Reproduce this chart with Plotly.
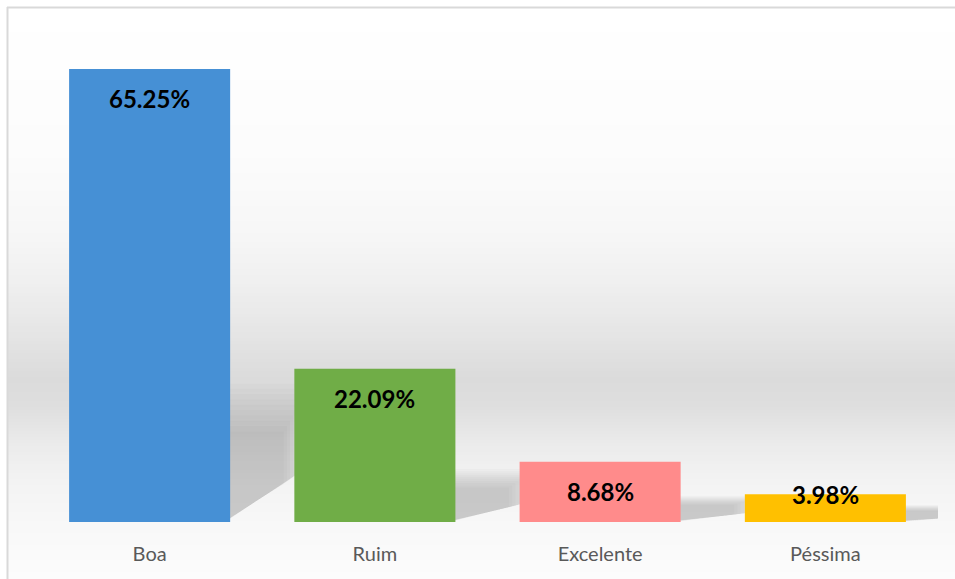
import plotly.graph_objects as go

categories = ["Boa", "Ruim", "Excelente", "Péssima"]
values = [65.25, 22.09, 8.68, 3.98]
labels = ["65.25%", "22.09%", "8.68%", "3.98%"]
bar_colors = ["#4690d5", "#70ad47", "#ff8b8b", "#ffc000"]

W, H = 955, 579
ML, MR, MT, MB = 37, 17, 36, 57
PW, PH = W - ML - MR, H - MT - MB
YMAX = 70
BAR_W = 0.715


def py2paper(py):
    return (H - MB - py) / PH


def px2paper(px):
    return (px - ML) / PW


# background gradient stops (pixel y, gray level)
stops = [(7, 255), (150, 252), (230, 247), (280, 240), (330, 230), (378, 219),
         (405, 222), (440, 234), (480, 243), (515, 247), (540, 249), (579, 252)]


def gray_at(y):
    for (y0, g0), (y1, g1) in zip(stops[:-1], stops[1:]):
        if y0 <= y <= y1:
            t = (y - y0) / (y1 - y0)
            return g0 + (g1 - g0) * t
    return stops[-1][1]


shapes = []
step = 3
y = 8
while y < H:
    g = int(round(gray_at(y + step / 2)))
    shapes.append(dict(type="rect", xref="paper", yref="paper",
                       x0=px2paper(8), x1=px2paper(W + 2),
                       y0=py2paper(y), y1=py2paper(min(y + step, H + 2) + 0.5),
                       fillcolor=f"rgb({g},{g},{g})", line=dict(width=0), layer="below"))
    y += step

# soft perspective shadows behind bars (built from the data values)
hw = BAR_W / 2
n_layers = 10
for i, v in enumerate(values):
    xr = i + hw
    t = 1 + 0.22 * v
    for k in range(n_layers):
        grow = 1.3 - 0.05 * k
        tt = t * grow
        L = 0.28 * grow
        path = (f"M {xr - 0.02},{tt} L {xr + L},{tt} L {xr + L},{0.42 * tt} "
                f"L {xr - 0.02},{0.05 + 0.02 * k} Z")
        shapes.append(dict(type="path", xref="x", yref="y", path=path,
                           fillcolor="rgba(60,60,60,0.028)", line=dict(width=0),
                           layer="below"))

# outer frame (top and left edges)
shapes.append(dict(type="line", xref="paper", yref="paper",
                   x0=px2paper(7), x1=px2paper(W + 5), y0=py2paper(7.5), y1=py2paper(7.5),
                   line=dict(color="#d9d9d9", width=2)))
shapes.append(dict(type="line", xref="paper", yref="paper",
                   x0=px2paper(7.5), x1=px2paper(7.5), y0=py2paper(7), y1=py2paper(H + 5),
                   line=dict(color="#d9d9d9", width=2)))

fig = go.Figure()
fig.add_trace(go.Bar(
    x=list(range(len(categories))), y=values, width=BAR_W,
    marker=dict(color=bar_colors, line=dict(width=0)),
    hoverinfo="skip", showlegend=False,
))

px_per_unit = PH / YMAX
annotations = []
for i, (v, lab) in enumerate(zip(values, labels)):
    bar_px = v * px_per_unit
    shift = -30 if bar_px > 60 else 0
    annotations.append(dict(x=i, y=v, xref="x", yref="y", text=f"<b>{lab}</b>",
                            showarrow=False, yanchor="middle", yshift=shift,
                            font=dict(family="Lato", size=24, color="#000000")))

fig.update_layout(
    width=W, height=H,
    margin=dict(l=ML, r=MR, t=MT, b=MB, pad=0),
    paper_bgcolor="#ffffff",
    plot_bgcolor="rgba(0,0,0,0)",
    shapes=shapes,
    annotations=annotations,
    bargap=1 - BAR_W,
    hovermode=False,
    xaxis=dict(tickmode="array", tickvals=list(range(len(categories))),
               ticktext=categories, range=[-0.5, len(categories) - 0.5],
               showgrid=False, zeroline=False, showline=False, ticks="",
               ticklabelstandoff=18, fixedrange=True,
               tickfont=dict(family="Lato", size=20, color="#595959")),
    yaxis=dict(range=[0, YMAX], showgrid=False, zeroline=False, showline=False,
               showticklabels=False, ticks="", fixedrange=True),
    font=dict(family="Lato"),
)

fig.write_html("out.html", config={"displayModeBar": False},
               post_script="document.body.style.margin='0px';document.body.style.overflow='hidden';")
